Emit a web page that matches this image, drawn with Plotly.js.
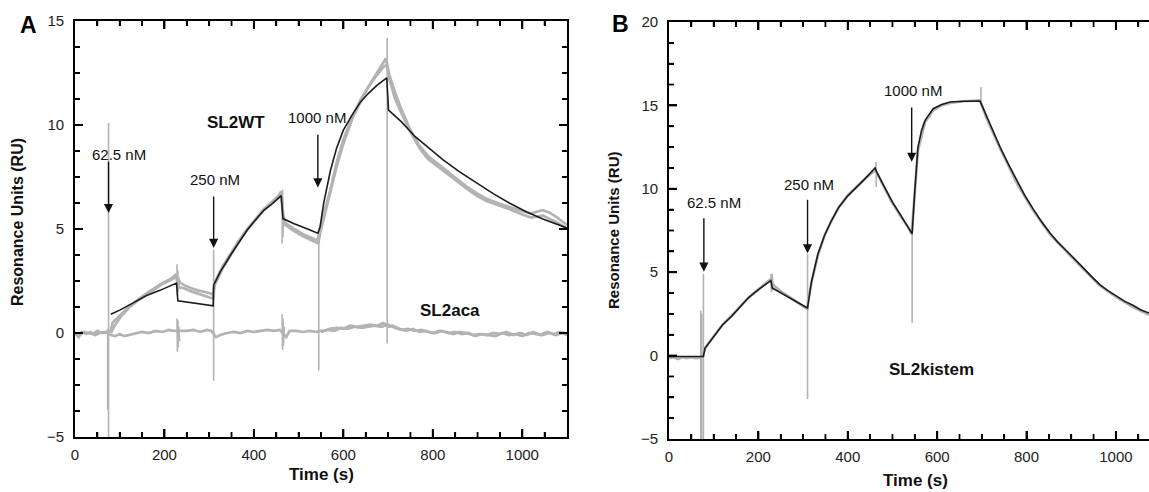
<!DOCTYPE html>
<html>
<head>
<meta charset="utf-8">
<script src="https://cdn.plot.ly/plotly-3.0.1.min.js"></script>
<style>html,body{margin:0;padding:0;background:#fff;}#chart{width:1149px;height:492px;}</style>
</head>
<body>
<div id="chart"></div>
<script>
// ---------- Panel A : SL2WT (grey replicates), fit (black), SL2aca (grey) ----------
const wtA1_t = [0,10,20,30,40,50,60,70,80,84,95,103,120,140,160,177,195,214,225,230,236,244,260,275,288,300,308,311,314,330,348,365,385,405,422,440,455,461,466,470,490,510,530,543,546,550,560,571,585,600,620,638,655,675,690,695,699,703,715,727,749,770,790,823,850,875,898,920,945,972,1000,1020,1035,1046,1060,1075,1090,1100];
const wtA1_v = [0.0,-0.1,0.05,0.0,-0.05,0.1,0.0,0.05,0.1,0.5,0.75,0.9,1.25,1.6,1.9,2.15,2.4,2.6,2.8,2.6,2.4,2.3,2.15,2.05,2.0,1.92,1.85,2.2,2.5,3.2,3.8,4.4,5.0,5.5,5.95,6.3,6.6,6.8,5.6,5.3,5.0,4.75,4.55,4.45,4.9,5.2,6.0,6.9,8.2,9.3,10.4,11.2,11.8,12.5,13.0,13.2,12.8,12.4,11.6,10.9,9.8,9.0,8.5,7.95,7.5,7.05,6.72,6.45,6.25,6.05,5.85,5.75,5.85,5.9,5.8,5.6,5.35,5.2];

const wtA2_t = [80,90,103,120,140,160,177,195,214,226,232,244,260,275,288,300,309,312,330,348,365,385,405,422,440,455,461,466,470,490,510,530,544,548,560,571,585,600,620,638,655,675,690,697,703,715,727,749,770,790,823,850,875,898,920,945,972,1000,1020,1035,1046,1060,1075,1090,1100];
const wtA2_v = [0.0,0.4,0.8,1.2,1.55,1.85,2.1,2.35,2.55,2.7,2.2,2.15,2.0,1.9,1.8,1.72,1.65,2.3,3.1,3.75,4.35,4.95,5.45,5.9,6.25,6.5,6.65,5.4,5.2,4.9,4.65,4.45,4.3,4.8,5.8,6.7,8.0,9.1,10.3,11.1,11.8,12.4,12.8,12.9,12.2,11.3,10.7,9.7,8.9,8.35,7.8,7.35,6.95,6.6,6.35,6.15,5.95,5.7,5.55,5.6,5.65,5.5,5.35,5.15,5.0];

const fitA_t = [80,100,130,160,190,227,230,260,290,309,310,325,348,370,385,400,422,440,461,465,490,520,543,548,556,571,585,600,620,638,655,675,697,701,730,760,790,823,860,898,935,972,1010,1046,1075,1100];
const fitA_v = [0.9,1.1,1.45,1.8,2.05,2.4,1.55,1.47,1.38,1.31,2.3,2.95,3.75,4.45,4.95,5.35,5.9,6.2,6.6,5.5,5.25,5.0,4.8,5.1,6.24,7.8,8.9,9.75,10.5,11.1,11.5,11.9,12.27,10.72,10.15,9.45,8.9,8.32,7.75,7.2,6.7,6.24,5.82,5.48,5.25,5.05];

const acaA1_t = [0,8,15,25,35,45,55,65,72,80,90,100,110,120,135,150,165,180,195,210,220,226,238,250,265,280,295,305,315,325,340,355,370,385,400,415,430,445,458,472,480,495,510,525,540,547,555,570,585,600,615,630,645,660,675,690,702,710,725,740,755,770,785,800,815,830,845,860,875,890,905,920,935,950,965,980,995,1010,1025,1040,1055,1070,1085,1100];
const acaA1_v = [0.0,-0.2,0.05,-0.05,0.05,-0.1,0.0,0.05,0.0,-0.1,-0.15,-0.05,-0.15,-0.1,0.0,0.05,0.0,0.1,0.05,0.15,0.1,0.1,0.1,0.1,0.15,0.05,0.15,0.1,-0.2,-0.1,0.0,0.05,0.0,0.1,0.05,0.1,0.15,0.1,0.15,-0.2,0.1,0.1,0.05,0.1,0.05,0.1,0.1,0.2,0.25,0.2,0.35,0.3,0.35,0.4,0.35,0.48,0.3,0.35,0.2,0.1,0.2,0.05,0.1,0.0,0.1,0.05,-0.05,0.05,0.0,-0.1,-0.05,-0.1,0.0,-0.05,0.05,-0.1,0.0,-0.1,0.05,-0.1,0.05,-0.05,0.05,-0.05];

const acaA2_t = [550,565,580,595,610,625,640,655,670,685,700,715,730,745,760,775,790,805,820,835,850,865,880,895,910,925,940,955,970,985,1000,1015,1030,1045,1060,1075,1090,1100];
const acaA2_v = [0.05,0.15,0.1,0.25,0.2,0.3,0.25,0.3,0.35,0.3,0.4,0.25,0.15,0.2,0.1,0.15,0.05,0.0,0.1,0.0,0.05,-0.05,0.0,-0.15,-0.05,-0.1,-0.15,0.0,-0.1,-0.05,-0.15,0.0,-0.05,-0.1,0.0,-0.1,0.0,-0.1];

// injection artefacts (spikes) in panel A, null separates each spike
const spikeA_t = [73,73,null,75,75,null,228,229,230,231,232,233,null,228,229,230,231,232,234,null,310,310,null,463,464,465,466,null,463,464,465,466,468,null,545,545,null,698,698];
const spikeA_v = [-3.7,0.2,null,-5.5,10.1,null,3.3,1.8,3.0,2.0,2.7,2.3,null,0.7,-0.9,0.6,-0.7,0.3,-0.4,null,-2.3,4.0,null,4.3,6.9,4.6,5.6,null,0.9,-0.8,0.7,-0.6,0.3,null,-1.8,4.9,null,-0.5,14.2];

// ---------- Panel B : SL2kistem (grey) and fit (black) ----------
const kisB_t = [0,10,20,30,40,50,60,70,74,78,80,90,103,120,140,160,177,195,215,226,235,250,270,290,309,312,319,333,348,363,380,400,420,438,452,461,466,480,500,520,535,543,546,550,557,573,591,610,629,660,696,700,711,741,778,815,852,890,927,964,1001,1039,1074];
const kisB_v = [-0.15,-0.1,-0.2,-0.1,-0.15,-0.1,-0.15,-0.1,-0.1,0.2,0.4,0.8,1.25,1.85,2.4,3.0,3.45,3.85,4.3,4.55,4.2,3.85,3.5,3.15,2.8,3.4,4.4,6.0,7.2,8.05,8.9,9.6,10.15,10.6,10.9,11.1,10.9,10.15,9.15,8.3,7.7,7.3,8.5,9.8,12.3,14.0,14.7,15.0,15.15,15.25,15.3,15.0,14.2,12.4,10.35,8.7,7.3,6.2,5.2,4.2,3.5,2.9,2.45];

const spikeB_t = [71,71,null,73,73,null,77,77,null,228,229,231,233,null,310,310,null,463,464,null,544,544,null,698,698];
const spikeB_v = [-5.5,2.7,null,-5.5,2.5,null,-5.5,4.9,null,4.9,3.8,4.9,3.9,null,-2.6,6.1,null,11.6,10.1,null,1.95,7.4,null,15.0,16.1];

const fitB_t = [0,77,80.5,103,120,140,160,177,195,215,228,231,250,270,290,310,319,333,348,363,380,400,420,438,461,465,480,500,520,544,550,557,565,573,591,610,629,660,696,711,725,741,760,778,796,815,833,852,870,890,908,927,945,964,982,1001,1020,1039,1055,1074];
const fitB_v = [-0.05,-0.05,0.44,1.24,1.85,2.35,2.95,3.45,3.85,4.26,4.5,4.06,3.75,3.45,3.15,2.85,4.46,6.07,7.2,8.07,8.9,9.58,10.1,10.58,11.25,11.0,10.2,9.2,8.35,7.3,9.88,12.49,13.5,14.1,14.8,15.05,15.2,15.25,15.26,14.3,13.4,12.49,11.45,10.48,9.6,8.78,8.05,7.37,6.8,6.27,5.75,5.26,4.75,4.26,3.9,3.55,3.25,3.0,2.75,2.55];

// ---------- labels ----------
const concLabels = ['62.5 nM','250 nM','1000 nM'];
const sampleLabelsA = ['SL2WT','SL2aca'];
const sampleLabelB = 'SL2kistem';
const xTitle = 'Time (s)';
const yTitle = 'Resonance Units (RU)';

const FONT = 'Liberation Sans';
const GREY = '#b3b3b3';
const BLACK = '#1c1c1c';
const AXC = '#000000';
const MAJ_LEN = 8, MIN_LEN = 5;

function greyLine(t, v, xa, ya, w) {
  return {x: t, y: v, xaxis: xa, yaxis: ya, type: 'scatter', mode: 'lines',
          line: {color: GREY, width: w || 2.7}, connectgaps: false, hoverinfo: 'skip', showlegend: false};
}
function fitLine(t, v, xa, ya) {
  return {x: t, y: v, xaxis: xa, yaxis: ya, type: 'scatter', mode: 'lines',
          line: {color: BLACK, width: 1.6}, hoverinfo: 'skip', showlegend: false};
}

const data = [
  greyLine(spikeA_t, spikeA_v, 'x', 'y', 1.6),
  greyLine(acaA2_t, acaA2_v, 'x', 'y'),
  greyLine(acaA1_t, acaA1_v, 'x', 'y'),
  greyLine(wtA2_t, wtA2_v, 'x', 'y'),
  greyLine(wtA1_t, wtA1_v, 'x', 'y'),
  fitLine(fitA_t, fitA_v, 'x', 'y'),
  greyLine(spikeB_t, spikeB_v, 'x2', 'y2', 1.6),
  greyLine(kisB_t, kisB_v, 'x2', 'y2'),
  fitLine(fitB_t, fitB_v, 'x2', 'y2')
];

function xAxis(domain, range) {
  return {domain: domain, range: range, showgrid: false, zeroline: false,
    showline: true, linecolor: AXC, linewidth: 1.8, mirror: 'ticks',
    ticks: 'inside', ticklen: MAJ_LEN, tickwidth: 2, tickcolor: AXC,
    tick0: 0, dtick: 200,
    minor: {ticks: 'inside', ticklen: MIN_LEN, tickwidth: 1.8, tickcolor: AXC, dtick: 50},
    tickfont: {family: FONT, size: 15, color: '#222'}, ticklabelstandoff: 3};
}
function yAxis(domain, range, mirror) {
  return {domain: domain, range: range, showgrid: false, zeroline: false,
    showline: true, linecolor: AXC, linewidth: 1.8, mirror: mirror,
    ticks: 'inside', ticklen: MAJ_LEN, tickwidth: 2, tickcolor: AXC,
    tick0: 0, dtick: 5,
    minor: {ticks: 'inside', ticklen: MIN_LEN, tickwidth: 1.8, tickcolor: AXC, dtick: 1.25},
    tickfont: {family: FONT, size: 15, color: '#222'}, ticklabelstandoff: 6};
}

// tick marks along the axes (positions from the axis range and tick spacing)
function tickValues(lo, hi, step) {
  const out = [];
  const n0 = Math.ceil(lo / step), n1 = Math.floor(hi / step);
  for (let n = n0; n <= n1; n++) {
    const v = n * step;
    if (v > lo + 1e-9 && v < hi - 1e-9) out.push(v);
  }
  return out;
}
function xTickShapes(xref, yref, range, major, minor, sides) {
  const shapes = [];
  const vals = tickValues(range[0], range[1], minor);
  vals.forEach(v => {
    const isMajor = Math.abs(v / major - Math.round(v / major)) < 1e-9;
    const len = isMajor ? MAJ_LEN : MIN_LEN;
    sides.forEach(s => {
      shapes.push({type: 'line', xref: xref, yref: yref + ' domain', x0: v, x1: v,
        ysizemode: 'pixel', yanchor: s, y0: 0, y1: s === 0 ? len : -len,
        line: {color: AXC, width: isMajor ? 2 : 1.8}, layer: 'above'});
    });
  });
  return shapes;
}
function yTickShapes(xref, yref, range, major, minor, sides) {
  const shapes = [];
  const vals = tickValues(range[0], range[1], minor);
  vals.forEach(v => {
    const isMajor = Math.abs(v / major - Math.round(v / major)) < 1e-9;
    const len = isMajor ? MAJ_LEN : MIN_LEN;
    sides.forEach(s => {
      shapes.push({type: 'line', xref: xref + ' domain', yref: yref, y0: v, y1: v,
        xsizemode: 'pixel', xanchor: s, x0: 0, x1: s === 0 ? len : -len,
        line: {color: AXC, width: isMajor ? 2 : 1.8}, layer: 'above'});
    });
  });
  return shapes;
}

const rangeAx = [0, 1100], rangeAy = [-5, 15], rangeBx = [0, 1074], rangeBy = [-5, 20];
const shapes = [].concat(
  xTickShapes('x', 'y', rangeAx, 200, 50, [0, 1]),
  yTickShapes('x', 'y', rangeAy, 5, 1.25, [0, 1]),
  xTickShapes('x2', 'y2', rangeBx, 200, 50, [0, 1]),
  yTickShapes('x2', 'y2', rangeBy, 5, 1.25, [0])
);

function arrow(xref, yref, t, tipV, tailV) {
  return {xref: xref, yref: yref, axref: xref, ayref: yref, x: t, y: tipV, ax: t, ay: tailV,
          text: '', showarrow: true, arrowhead: 2, arrowsize: 1.3, arrowwidth: 1.4,
          arrowcolor: '#111', standoff: 0, startstandoff: 0};
}
function label(xref, yref, t, v, text, bold, size) {
  return {xref: xref, yref: yref, x: t, y: v, text: bold ? '<b>' + text + '</b>' : text,
          showarrow: false, xanchor: 'center', yanchor: 'middle',
          font: {family: FONT, size: size, color: '#111'}};
}

const annotations = [
  arrow('x', 'y', 75, 5.77, 8.3),
  arrow('x', 'y', 310, 4.09, 6.63),
  arrow('x', 'y', 543, 7.0, 9.6),
  label('x', 'y', 98, 8.6, concLabels[0], false, 15),
  label('x', 'y', 314, 7.36, concLabels[1], false, 15),
  label('x', 'y', 540, 10.34, concLabels[2], false, 15),
  label('x', 'y', 361, 10.1, sampleLabelsA[0], true, 17),
  label('x', 'y', 838, 1.06, sampleLabelsA[1], true, 17),
  arrow('x2', 'y2', 78, 5.03, 8.33),
  arrow('x2', 'y2', 310, 6.13, 9.43),
  arrow('x2', 'y2', 543, 11.62, 14.96),
  label('x2', 'y2', 101, 9.17, concLabels[0], false, 15),
  label('x2', 'y2', 314, 10.23, concLabels[1], false, 15),
  label('x2', 'y2', 546, 15.88, concLabels[2], false, 15),
  label('x2', 'y2', 588, -0.86, sampleLabelB, true, 17),
  {xref: 'paper', yref: 'paper', x: 28.5/1149, y: 1 - 25/492, text: '<b>A</b>', showarrow: false,
   xanchor: 'center', yanchor: 'middle', font: {family: FONT, size: 23, color: '#000'}},
  {xref: 'paper', yref: 'paper', x: 620/1149, y: 1 - 24/492, text: '<b>B</b>', showarrow: false,
   xanchor: 'center', yanchor: 'middle', font: {family: FONT, size: 23, color: '#000'}},
  {xref: 'paper', yref: 'paper', x: 321/1149, y: 1 - 474/492, text: '<b>' + xTitle + '</b>', showarrow: false,
   xanchor: 'center', yanchor: 'middle', font: {family: FONT, size: 17, color: '#111'}},
  {xref: 'paper', yref: 'paper', x: 915/1149, y: 1 - 480/492, text: '<b>' + xTitle + '</b>', showarrow: false,
   xanchor: 'center', yanchor: 'middle', font: {family: FONT, size: 17, color: '#111'}},
  {xref: 'paper', yref: 'paper', x: 18/1149, y: 1 - 222/492, text: '<b>' + yTitle + '</b>', showarrow: false,
   textangle: -90, xanchor: 'center', yanchor: 'middle', font: {family: FONT, size: 16, color: '#111'}},
  {xref: 'paper', yref: 'paper', x: 613/1149, y: 1 - 230/492, text: '<b>' + yTitle + '</b>', showarrow: false,
   textangle: -90, xanchor: 'center', yanchor: 'middle', font: {family: FONT, size: 15, color: '#111'}}
];

const layout = {
  width: 1149, height: 492,
  margin: {l: 0, r: 0, t: 0, b: 0, pad: 0},
  paper_bgcolor: '#fff', plot_bgcolor: '#fff',
  showlegend: false,
  xaxis: Object.assign(xAxis([75/1149, 567/1149], rangeAx), {anchor: 'y'}),
  yaxis: Object.assign(yAxis([55/492, 471/492], rangeAy, 'ticks'), {anchor: 'x'}),
  xaxis2: Object.assign(xAxis([669/1149, 1], rangeBx), {anchor: 'y2'}),
  yaxis2: Object.assign(yAxis([53/492, 470/492], rangeBy, false), {anchor: 'x2'}),
  shapes: shapes,
  annotations: annotations
};

Plotly.newPlot('chart', data, layout, {staticPlot: true, displayModeBar: false});
</script>
</body>
</html>
